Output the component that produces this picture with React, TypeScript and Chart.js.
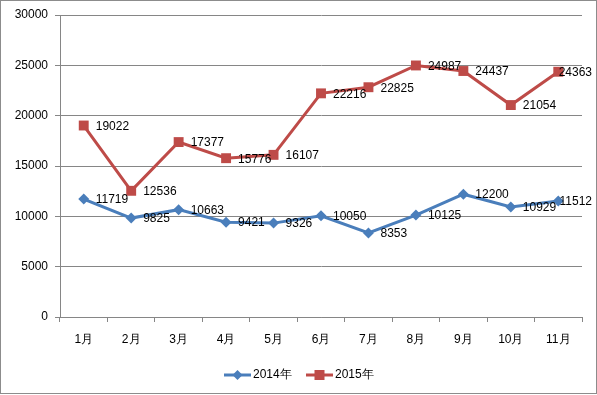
import React, { useEffect, useRef } from "react";
import { Chart, registerables } from "chart.js";

Chart.register(...registerables);

const categories = ["1月", "2月", "3月", "4月", "5月", "6月", "7月", "8月", "9月", "10月", "11月"];
const series2014 = [11719, 9825, 10663, 9421, 9326, 10050, 8353, 10125, 12200, 10929, 11512];
const series2015 = [19022, 12536, 17377, 15776, 16107, 22216, 22825, 24987, 24437, 21054, 24363];
const seriesNames = ["2014年", "2015年"];

const BLUE = "#4A7EBB";
const RED = "#BE4B48";
const GRID = "#868686";
const FONT = "'Liberation Sans', Arial, sans-serif";

const labelPlugin = {
  id: "customDraw",
  afterDatasetsDraw(chart: any) {
    const ctx = chart.ctx;
    ctx.save();
    ctx.font = `12px ${FONT}`;
    ctx.fillStyle = "#000";
    ctx.textAlign = "left";
    ctx.textBaseline = "middle";
    chart.data.datasets.forEach((ds: any, i: number) => {
      const meta = chart.getDatasetMeta(i);
      meta.data.forEach((pt: any, j: number) => {
        const txt = String(ds.data[j]);
        const w = ctx.measureText(txt).width;
        let x = pt.x + 12;
        if (x + w > 592) x = 592 - w;
        ctx.fillText(txt, x, pt.y + 1);
      });
    });
    ctx.restore();
  },
  afterDraw(chart: any) {
    const ctx = chart.ctx;
    ctx.save();
    // legend
    const items = [
      { name: seriesNames[0], color: BLUE, shape: "diamond", x: 224 },
      { name: seriesNames[1], color: RED, shape: "square", x: 306 },
    ];
    const ly = 375;
    items.forEach((it) => {
      ctx.strokeStyle = it.color;
      ctx.lineWidth = 3;
      ctx.beginPath();
      ctx.moveTo(it.x, ly);
      ctx.lineTo(it.x + 27, ly);
      ctx.stroke();
      ctx.fillStyle = it.color;
      const cx = it.x + 13.5;
      if (it.shape === "diamond") {
        ctx.beginPath();
        ctx.moveTo(cx, ly - 5);
        ctx.lineTo(cx + 5, ly);
        ctx.lineTo(cx, ly + 5);
        ctx.lineTo(cx - 5, ly);
        ctx.closePath();
        ctx.fill();
      } else {
        ctx.fillRect(cx - 5, ly - 5, 10, 10);
      }
      ctx.fillStyle = "#000";
      ctx.font = `12px ${FONT}`;
      ctx.textAlign = "left";
      ctx.textBaseline = "middle";
      ctx.fillText(it.name, it.x + 29, ly);
    });
    // outer border
    ctx.strokeStyle = "#8c8c8c";
    ctx.lineWidth = 1;
    ctx.strokeRect(0.5, 0.5, 596, 393);
    ctx.restore();
  },
};

export default function App() {
  const ref = useRef<HTMLCanvasElement>(null);
  useEffect(() => {
    document.body.style.margin = "0";
    const canvas = ref.current!;
    const chart = new Chart(canvas, {
      type: "line",
      data: {
        labels: categories,
        datasets: [
          {
            label: seriesNames[0],
            data: series2014,
            borderColor: BLUE,
            backgroundColor: BLUE,
            borderWidth: 3,
            pointStyle: "rectRot",
            pointRadius: 5.5,
            pointBorderWidth: 0,
            tension: 0,
          },
          {
            label: seriesNames[1],
            data: series2015,
            borderColor: RED,
            backgroundColor: RED,
            borderWidth: 3,
            pointStyle: "rect",
            pointRadius: 7,
            pointBorderWidth: 0,
            tension: 0,
          },
        ],
      },
      options: {
        responsive: false,
        animation: false,
        devicePixelRatio: 1,
        layout: { padding: { left: 0, right: 15, top: 15, bottom: 0 } },
        plugins: {
          legend: { display: false },
          tooltip: { enabled: false },
        },
        scales: {
          x: {
            type: "category",
            offset: true,
            grid: {
              offset: true,
              drawOnChartArea: false,
              drawTicks: true,
              tickLength: 5,
              color: GRID,
            },
            border: { color: GRID, width: 1 },
            ticks: { color: "#000", font: { family: FONT, size: 12 }, padding: 10, maxRotation: 0 },
            afterFit: (s: any) => {
              s.height = 78;
            },
          },
          y: {
            min: 0,
            max: 30000,
            ticks: {
              stepSize: 5000,
              color: "#000",
              font: { family: FONT, size: 12 },
              padding: 7,
              callback: (v: any) => String(v),
            },
            grid: { color: GRID, tickLength: 5, drawTicks: true },
            border: { color: GRID, width: 1 },
            afterFit: (s: any) => {
              s.width = 60;
            },
          },
        },
      },
      plugins: [labelPlugin],
    });
    return () => chart.destroy();
  }, []);
  return <canvas ref={ref} width={597} height={395} style={{ display: "block", width: 597, height: 395 }} />;
}
